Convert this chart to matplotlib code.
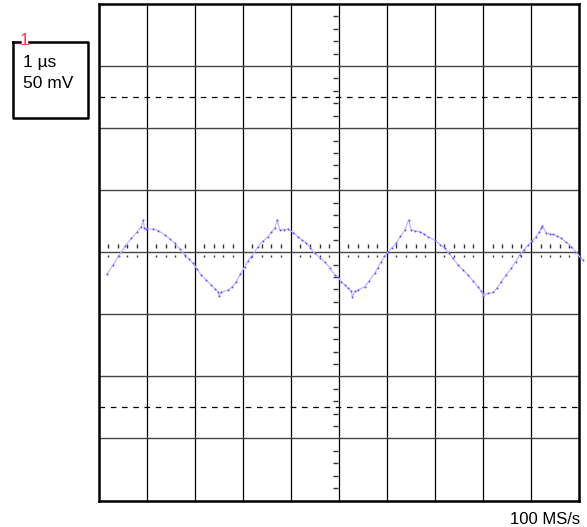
import matplotlib.pyplot as plt
from matplotlib.lines import Line2D

# scope settings
time_div = "1 \u00b5s"
volt_div = "50 mV"
rate_label = "100 MS/s"
channel = "1"

# captured trace: time (us), voltage (mV)
t_us = [0.177, 0.302, 0.427, 0.552, 0.683, 0.801, 0.891, 0.926, 0.957, 0.995,
        1.134, 1.238, 1.378, 1.488, 1.586, 1.696, 1.794, 1.883, 1.967, 2.050,
        2.139, 2.237, 2.348, 2.425, 2.487, 2.508, 2.556, 2.695, 2.778, 2.868,
        2.955, 3.043, 3.111, 3.180, 3.319, 3.424, 3.528, 3.600, 3.667, 3.721,
        3.771, 3.861, 3.944, 4.048, 4.152, 4.235, 4.325, 4.412, 4.500, 4.610,
        4.708, 4.818, 4.916, 4.984, 5.053, 5.124, 5.193, 5.261, 5.282, 5.338,
        5.401, 5.540, 5.630, 5.748, 5.817, 5.886, 5.952, 6.025, 6.108, 6.198,
        6.285, 6.373, 6.456, 6.510, 6.587, 6.685, 6.774, 6.857, 6.997, 7.107,
        7.205, 7.295, 7.378, 7.482, 7.586, 7.690, 7.794, 7.898, 7.961, 8.002,
        8.012, 8.106, 8.210, 8.293, 8.383, 8.481, 8.591, 8.679, 8.766, 8.856,
        8.939, 9.022, 9.111, 9.168, 9.216, 9.237, 9.320, 9.397, 9.459, 9.542,
        9.632, 9.730, 9.840, 9.927, 10.015, 10.083]
v_mv = [-17.8, -10.3, -2.8, 5.0, 11.2, 16.3, 20.6, 26.0, 19.5, 18.7,
        18.7, 17.5, 13.9, 10.7, 7.2, 2.6, -2.2, -5.4, -8.9, -13.5,
        -18.3, -22.4, -26.4, -29.6, -31.8, -35.2, -32.3, -30.4, -28.0, -23.7,
        -17.5, -11.6, -7.1, -3.6, 4.5, 9.1, 12.5, 16.3, 19.3, 26.0,
        17.9, 18.3, 18.7, 15.9, 12.5, 9.9, 7.2, 3.4, -0.8, -4.6,
        -7.6, -12.7, -18.3, -19.7, -23.7, -26.4, -28.8, -31.2, -35.8, -31.6,
        -30.4, -27.8, -23.2, -17.0, -12.3, -7.6, -3.4, 0.4, 3.8, 7.2,
        12.7, 17.9, 26.0, 17.9, 17.1, 16.6, 14.7, 12.5, 9.9, 6.2,
        3.2, -1.0, -4.9, -10.3, -14.3, -18.3, -23.2, -27.8, -31.2, -33.1,
        -35.2, -33.1, -32.3, -28.8, -23.7, -18.3, -12.9, -7.5, -2.2, 2.2,
        5.8, 9.1, 12.5, 16.3, 19.3, 21.4, 15.3, 14.7, 14.5, 13.1,
        11.2, 8.3, 4.5, 0.6, -3.6, -6.2]

W, H = 587, 527
fig = plt.figure(figsize=(W / 100, H / 100), dpi=100)
plt.rcParams['font.family'] = ['Liberation Sans', 'DejaVu Sans']

# graticule area in pixels
x0, x1, y0, y1 = 98.5, 579.0, 4.0, 500.5
ax = fig.add_axes([x0 / W, 1 - y1 / H, (x1 - x0) / W, (y1 - y0) / H])
ax.set_xlim(0, 10)
ax.set_ylim(-200, 200)
ax.set_xticks([])
ax.set_yticks([])
for s in ax.spines.values():
    s.set_linewidth(1.8)
    s.set_color('black')

for i in range(1, 10):
    ax.axvline(i, color='black', lw=0.9, zorder=1)
for j in range(-3, 4):
    ax.axhline(j * 50, color='#444444', lw=1.0, zorder=1)

# dashed reference lines
for y in (125, -125):
    ax.axhline(y, color='black', lw=0.9, ls=(0, (4.5, 4.5)), zorder=1)

# minor ticks along the centre lines
px_t = 10 / (x1 - x0)
px_v = 400 / (y1 - y0)
xs = [i + k * 0.2 for i in range(10) for k in range(1, 5)]
ax.vlines(xs, 4.4 * px_v, 8.7 * px_v, color='#333333', lw=1.0, zorder=1)
ax.vlines(xs, -5.0 * px_v, -3.0 * px_v, color='#333333', lw=1.0, zorder=1)
ys = [-200 + i * 50 + k * 10 for i in range(8) for k in range(1, 5)]
ax.hlines(ys, 5 - 5.8 * px_t, 5 - 1.0 * px_t, color='#333333', lw=1.0, zorder=1)

# trace
ax.plot(t_us, v_mv, color='#c2b4ff', lw=0.9, zorder=3, clip_on=False)
ax.plot(t_us, v_mv, ls='none', marker='o', ms=1.4, mew=0,
        color='#6a4cff', zorder=4, clip_on=False)

# overlay for the annotation box and labels, pixel coordinates
ov = fig.add_axes([0, 0, 1, 1], zorder=-1)
ov.set_xlim(0, W)
ov.set_ylim(H, 0)
ov.axis('off')

bx0, bx1, by0, by1 = 12.7, 88.3, 42.3, 118.3
ov.add_line(Line2D([bx0, bx0, bx1, bx1, 29.0], [by0, by1, by1, by0, by0],
                   color='black', lw=1.8))
ov.add_line(Line2D([bx0, 20.0], [by0, by0], color='black', lw=1.8))
ov.text(24.3, 40.5, channel, color='#ff3b4a', fontsize=12.5,
        ha='center', va='center')
ov.text(23, 62, time_div, fontsize=12.5, ha='left', va='center')
ov.text(23, 83, volt_div, fontsize=12.5, ha='left', va='center')
ov.text(580, 519, rate_label, fontsize=12, ha='right', va='center')

fig.savefig('out.png', dpi=100)
